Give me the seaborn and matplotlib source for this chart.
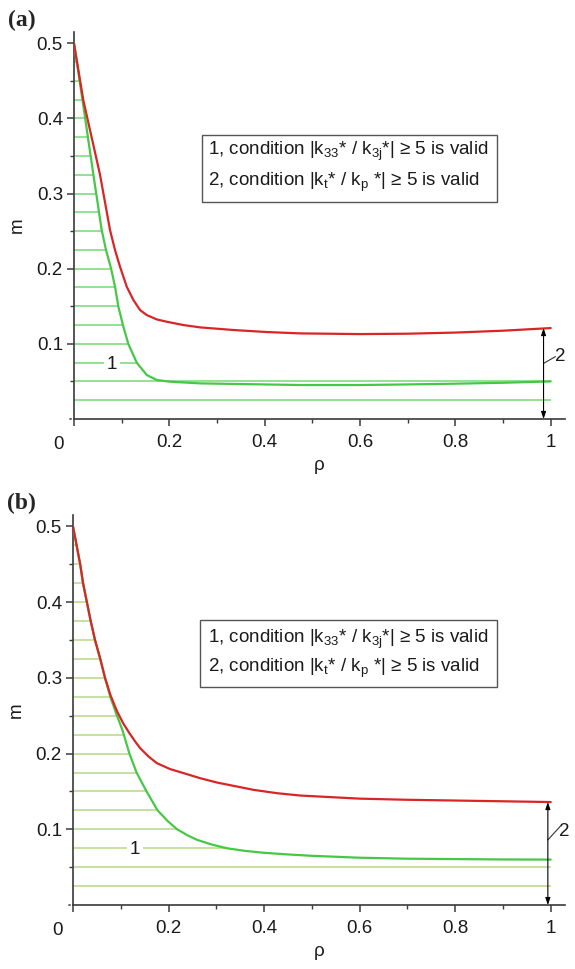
import numpy as np
import pandas as pd
import matplotlib
matplotlib.use("Agg")
import matplotlib.pyplot as plt
from matplotlib.patches import Rectangle
import seaborn as sns

# ---- data -------------------------------------------------------------
# panel (a)
rho_red_a = [0, 0.0196, 0.0546, 0.0756, 0.0861, 0.0966, 0.1107, 0.1247, 0.1387,
             0.1527, 0.1737, 0.1947, 0.2297, 0.2647, 0.3347, 0.4048, 0.4748,
             0.6, 0.7, 0.8, 0.9, 1.0]
m_red_a = [0.5, 0.424, 0.325, 0.2513, 0.2247, 0.2025, 0.176, 0.1582, 0.1449,
           0.1383, 0.1325, 0.1294, 0.125, 0.1219, 0.1184, 0.1157, 0.1139,
           0.113, 0.1135, 0.115, 0.1175, 0.121]
rho_green_a = [0, 0.02, 0.04, 0.0581, 0.0672, 0.0777, 0.0861, 0.0931, 0.1036, 0.1141,
               0.1317, 0.1527, 0.1737, 0.2017, 0.2647, 0.4748, 0.6, 0.7, 0.8, 0.9, 1.0]
m_green_a = [0.5, 0.415, 0.328, 0.2513, 0.2247, 0.2004, 0.176, 0.1493, 0.1227, 0.0997,
             0.0749, 0.0585, 0.0519, 0.0496, 0.0474, 0.0452, 0.0452, 0.046, 0.047,
             0.0482, 0.05]

# panel (b)
rho_red_b = [0, 0.015, 0.021, 0.037, 0.046, 0.057, 0.067, 0.0785, 0.092, 0.105, 0.118,
             0.13, 0.1405, 0.158, 0.1754, 0.2034, 0.2313, 0.2662, 0.3012, 0.3361,
             0.378, 0.427, 0.4759, 0.6, 0.7, 0.8, 0.9, 1.0]
m_red_b = [0.5, 0.45, 0.425, 0.375, 0.35, 0.325, 0.3, 0.277, 0.256, 0.24, 0.227,
           0.216, 0.2072, 0.1962, 0.1874, 0.1795, 0.1742, 0.1675, 0.1618, 0.1574,
           0.1521, 0.1477, 0.1446, 0.1405, 0.139, 0.138, 0.137, 0.136]
rho_green_b = [0, 0.015, 0.021, 0.037, 0.046, 0.057, 0.067, 0.078, 0.092, 0.104, 0.118,
               0.133, 0.154, 0.177, 0.198, 0.218, 0.24, 0.26, 0.29, 0.322, 0.36, 0.4,
               0.45, 0.5, 0.6, 0.7, 0.8, 0.9, 1.0]
m_green_b = [0.5, 0.45, 0.425, 0.375, 0.35, 0.325, 0.3, 0.275, 0.25, 0.23, 0.2,
             0.175, 0.15, 0.125, 0.111, 0.1, 0.092, 0.086, 0.08, 0.075, 0.0715, 0.069,
             0.0668, 0.065, 0.0625, 0.0612, 0.0607, 0.0602, 0.06]

# hatch levels of region 1
hatch_levels = [0.025, 0.05, 0.075, 0.1, 0.125, 0.15, 0.175, 0.2, 0.225, 0.25, 0.275,
                0.3, 0.325, 0.35, 0.375, 0.4, 0.425, 0.45, 0.475]

x_ticks = [0, 0.2, 0.4, 0.6, 0.8, 1.0]
x_tick_labels = ["", "0.2", "0.4", "0.6", "0.8", "1"]
y_ticks = [0.1, 0.2, 0.3, 0.4, 0.5]
y_tick_labels = ["0.1", "0.2", "0.3", "0.4", "0.5"]

legend_lines = [
    r"1, condition |k$_{\mathregular{33}}$* / k$_{\mathregular{3j}}$*| ≥ 5 is valid",
    r"2, condition |k$_{\mathregular{t}}$* / k$_{\mathregular{p}}$ *| ≥ 5 is valid",
]

# ---- style ------------------------------------------------------------
sns.set_theme(style="ticks")
plt.rcParams["font.family"] = ["Liberation Sans", "DejaVu Sans"]
plt.rcParams["mathtext.fontset"] = "custom"
plt.rcParams["mathtext.rm"] = "Liberation Sans"
plt.rcParams["mathtext.it"] = "Liberation Sans:italic"
AX_COLOR = "#3a3a3a"
TXT = "#1a1a1a"
RED = "#d92525"
GREEN = "#46c846"

fig = plt.figure(figsize=(5.75, 9.69), dpi=100)


def hatch_end(level, rho, m):
    """Where the horizontal line at `level` meets curve 1 (or the right end)."""
    rho = np.asarray(rho)
    m = np.asarray(m)
    if level <= m[-1]:
        return rho[-1]
    idx = np.argmax(m <= level)
    r0, r1 = rho[idx - 1], rho[idx]
    m0, m1 = m[idx - 1], m[idx]
    return r0 + (m0 - level) * (r1 - r0) / (m0 - m1)


def panel(rect, rho_r, m_r, rho_g, m_g, hatch_color, letter, label1_pos,
          arrow_rho, label2_pos, leader, box, text_x, text_ys):
    ax = fig.add_axes(rect)
    # hatching of region 1
    ends = [hatch_end(lv, rho_g, m_g) for lv in hatch_levels]
    ax.hlines(hatch_levels, 0, ends, color=hatch_color, lw=1.3, zorder=1)

    df_r = pd.DataFrame({"rho": rho_r, "m": m_r})
    df_g = pd.DataFrame({"rho": rho_g, "m": m_g})
    sns.lineplot(data=df_g, x="rho", y="m", ax=ax, color=GREEN, lw=1.6,
                 sort=False, zorder=3)
    sns.lineplot(data=df_r, x="rho", y="m", ax=ax, color=RED, lw=1.6,
                 sort=False, zorder=3)

    ax.set_xlim(0, 1.03)
    ax.set_ylim(0, 0.515)
    ax.set_xticks(x_ticks)
    ax.set_xticklabels(x_tick_labels)
    ax.set_yticks(y_ticks)
    ax.set_yticklabels(y_tick_labels)
    ax.set_xticks(np.arange(0.1, 1.0, 0.2), minor=True)
    ax.set_yticks(np.arange(0.0, 0.5, 0.1) + 0.05, minor=True)
    for s in ("top", "right"):
        ax.spines[s].set_visible(False)
    for s in ("left", "bottom"):
        ax.spines[s].set_color(AX_COLOR)
        ax.spines[s].set_linewidth(1.2)
    ax.tick_params(axis="both", which="major", direction="out", length=5,
                   width=1.1, color=AX_COLOR, labelsize=13.5, labelcolor=TXT)
    ax.tick_params(axis="both", which="minor", direction="out", length=3,
                   width=1.0, color=AX_COLOR)
    ax.tick_params(axis="x", which="major", pad=6)
    ax.tick_params(axis="y", which="major", pad=3)
    ax.grid(False)
    # shared origin label and the y tick at zero
    ax.annotate("0", xy=(0, 0), xycoords="axes fraction", xytext=(-11, -12),
                textcoords="offset points", ha="center", va="top",
                fontsize=13.5, color=TXT, annotation_clip=False)
    ax.annotate("", xy=(0, 0), xycoords="axes fraction", xytext=(-5, 0),
                textcoords="offset points",
                arrowprops=dict(arrowstyle="-", color=AX_COLOR, lw=1.1))

    ax.set_xlabel("ρ", fontsize=13.5, labelpad=4, color=TXT)
    ax.set_ylabel("m", fontsize=13.5, labelpad=8, color=TXT)

    # curve labels
    ax.text(*label1_pos, "1", fontsize=13.5, ha="center", va="center",
            color=TXT, zorder=4,
            bbox=dict(boxstyle="square,pad=0.15", fc="white", ec="none"))
    ax.annotate("", xy=(arrow_rho, m_r[-1]), xytext=(arrow_rho, 0),
                arrowprops=dict(arrowstyle="<|-|>,head_length=0.35,head_width=0.12",
                                color="black", lw=0.8, shrinkA=0, shrinkB=0),
                annotation_clip=False, zorder=5)
    ax.plot([arrow_rho, leader[0]], [leader[1], leader[2]], color="#333333",
            lw=0.8, clip_on=False)
    ax.text(*label2_pos, "2", fontsize=13.5, ha="left", va="center",
            color=TXT, clip_on=False)

    # condition box
    x0, y0, x1, y1 = box
    ax.add_patch(Rectangle((x0, y0), x1 - x0, y1 - y0, fill=True, fc="white",
                           ec="#555555", lw=1.0, zorder=4))
    for ty, line in zip(text_ys, legend_lines):
        ax.text(text_x, ty, line, fontsize=13.5, ha="left", va="center",
                color=TXT, zorder=5)

    fig.text(rect[0] - 0.115, rect[1] + rect[3] + 0.012, letter,
             family=["Liberation Serif", "DejaVu Serif"], weight="bold",
             fontsize=17, ha="left", va="center")
    return ax


panel([0.1287, 0.5676, 0.8539, 0.3994], rho_red_a, m_red_a, rho_green_a, m_green_a,
      "#8ade8a", "(a)", (0.08, 0.073), 0.985, (1.008, 0.083),
      (1.01, 0.074, 0.083), (0.269, 0.289, 0.887, 0.378), 0.282, (0.356, 0.315))

panel([0.127, 0.066, 0.8557, 0.4025], rho_red_b, m_red_b, rho_green_b, m_green_b,
      "#c2de9a", "(b)", (0.13, 0.073), 0.994, (1.018, 0.097),
      (1.02, 0.086, 0.104), (0.266, 0.288, 0.887, 0.377), 0.283, (0.351, 0.313))

fig.savefig("out.png", dpi=100)
